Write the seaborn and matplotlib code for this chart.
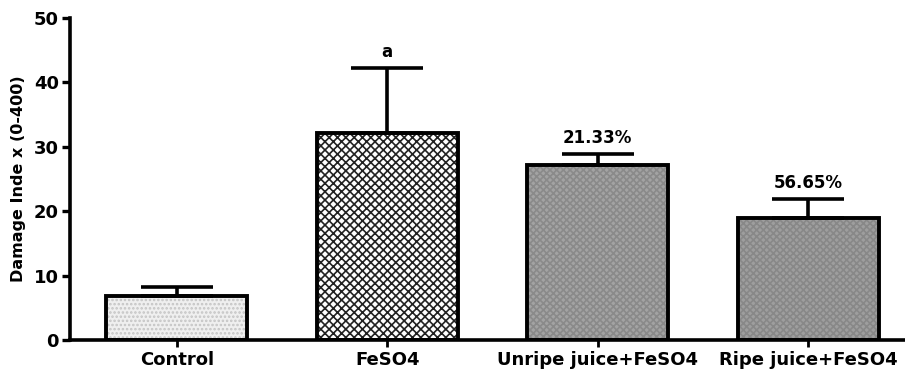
import numpy as np
import pandas as pd
import matplotlib
matplotlib.use("Agg")
import matplotlib.pyplot as plt
import seaborn as sns

sns.set_style("ticks")
plt.rcParams['font.family'] = ['DejaVu Sans']
plt.rcParams['font.weight'] = 'bold'
plt.rcParams['hatch.linewidth'] = 1.2
for k in ['text.color', 'axes.labelcolor', 'xtick.color', 'ytick.color', 'axes.edgecolor']:
    plt.rcParams[k] = 'black'

# data
groups = ["Control", "FeSO4", "Unripe juice+FeSO4", "Ripe juice+FeSO4"]
means = [6.8, 32.1, 27.2, 18.9]
errs = [1.4, 10.1, 1.7, 3.0]
labels = ["", "a", "21.33%", "56.65%"]

# fill styles per bar
faces = ["#efefef", "#ffffff", "#a3a3a3", "#9e9e9e"]
hatch_cols = ["#c4c4c4", "#222222", "#8a8a8a", "#888888"]
hatches = ["....", "xxxx", "xxxxx", "xxxxx"]

df = pd.DataFrame({"group": groups, "mean": means})

fig = plt.figure(figsize=(9.05, 3.71), dpi=100)
ax = fig.add_axes([70 / 905, 31 / 371, 835 / 905, 322 / 371])

# filled, hatched bars
sns.barplot(data=df, x="group", y="mean", ax=ax, width=0.67, linewidth=0)
for p, fc, hc, h in zip(ax.patches, faces, hatch_cols, hatches):
    p.set_facecolor(fc)
    p.set_edgecolor(hc)
    p.set_hatch(h)
    p.set_linewidth(0)

# error bars (upper only)
x = np.arange(len(groups))
ax.errorbar(x, means, yerr=[np.zeros(len(errs)), errs], fmt="none",
            ecolor="black", elinewidth=2.6, capsize=26, capthick=2.6, zorder=3)

# black outlines on top
sns.barplot(data=df, x="group", y="mean", ax=ax, width=0.67, fill=False,
            edgecolor="black", linewidth=2.8, zorder=4)

for xi, m, e, t in zip(x, means, errs, labels):
    if t:
        ax.annotate(t, (xi, m + e), xytext=(0, 5), textcoords="offset points",
                    ha="center", va="bottom", fontsize=12, fontweight="bold")

ax.set_xlim(-0.507, 3.46)
ax.set_ylim(0, 50)
ax.set_yticks([0, 10, 20, 30, 40, 50])
ax.set_xlabel("")
ax.set_ylabel("Damage Inde x (0-400)", fontsize=11.5, fontweight="bold", labelpad=6)
ax.tick_params(axis="y", width=2.4, length=6, labelsize=13, pad=2)
ax.tick_params(axis="x", width=2, length=5, labelsize=13, pad=3)
for lab in ax.get_xticklabels() + ax.get_yticklabels():
    lab.set_fontweight("bold")

sns.despine(ax=ax)
ax.spines["left"].set_linewidth(2.6)
ax.spines["bottom"].set_linewidth(2.6)

fig.savefig("out.png", dpi=100)
